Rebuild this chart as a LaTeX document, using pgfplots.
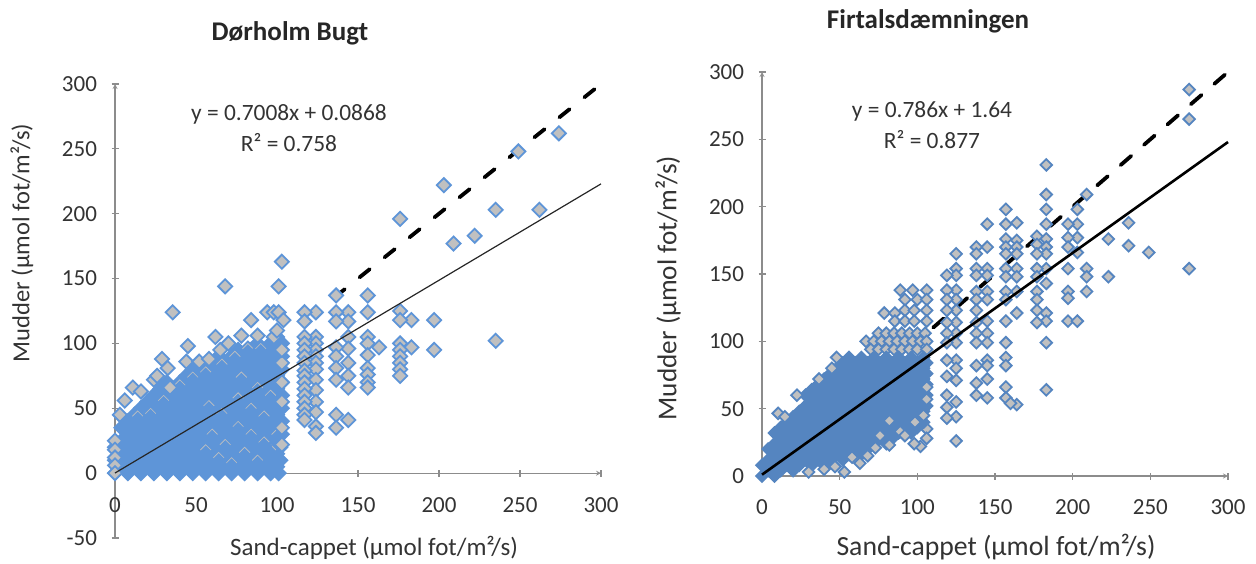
\documentclass[border=0pt]{standalone}
\usepackage{pgfplots}
\pgfplotsset{compat=1.18}
\usepackage{fontspec}
\setmainfont{Carlito}
\definecolor{axc}{HTML}{8C8C8C}
\definecolor{txt}{HTML}{333333}
\definecolor{lblue}{HTML}{5E95D8}
\definecolor{rblue}{HTML}{5585C0}
\definecolor{gfill}{HTML}{C0C0C0}
\pgfplotsset{
 common/.style={
  scale only axis, clip=false, clip mode=individual,
  xmin=0,xmax=300,
  xtick={0,50,100,150,200,250,300},
  axis line style={draw=axc,line width=1.2pt,-},
  tick style={draw=axc,line width=1.2pt},
  tick align=outside, major tick length=7pt,
  hide obscured x ticks=false, hide obscured y ticks=false,
  tick label style={text=txt,font=\fontsize{23}{25}\selectfont},
  /pgf/number format/assume math mode=true,
  yticklabel style={xshift=-11pt},
  label style={text=txt},
 }
}
\begin{document}
\begin{tikzpicture}[x=1pt,y=1pt]
\path[use as bounding box] (0,0) rectangle (1256,563);
\begin{axis}[common,at={(115pt,25pt)},anchor=south west,width=486pt,height=454pt,
  ymin=-50,ymax=300,ytick={-50,0,50,100,150,200,250,300},
  axis x line=middle, axis y line=left,
  xticklabel style={yshift=-17pt},
  lblue core/.style={only marks,mark=square*,mark size=5pt,mark options={rotate=45,draw=lblue,fill=lblue,line width=1.8pt}},
  lgray/.style={only marks,mark=square*,mark size=5pt,mark options={rotate=45,draw=lblue,fill=gfill,line width=1.8pt}},
]
\addplot[black,line width=3.8pt,line cap=round,dash pattern=on 13pt off 19pt] coordinates {(296,296) (130,130)};
\addplot[lblue core] coordinates {
(0,0)(8,0)(16,0)(24,0)(32,0)(40,0)(48,0)(56,0)(64,0)(72,0)(80,0)(88,0)(96,0)(101,0)
(4,5)(12,5)(20,5)(28,5)(36,5)(44,5)(52,5)(60,5)(68,5)(76,5)(84,5)(92,5)(100,5)
(0,10)(8,10)(16,10)(24,10)(32,10)(40,10)(48,10)(56,10)(64,10)(72,10)(80,10)(88,10)(96,10)(102,10)
(4,15)(12,15)(20,15)(28,15)(36,15)(44,15)(52,15)(60,15)(68,15)(76,15)(84,15)(92,15)(100,15)
(0,20)(8,20)(16,20)(24,20)(32,20)(40,20)(48,20)(56,20)(64,20)(72,20)(80,20)(88,20)(96,20)(102,20)
(4,25)(12,25)(20,25)(28,25)(36,25)(44,25)(52,25)(60,25)(68,25)(76,25)(84,25)(92,25)(100,25)
(8,30)(16,30)(24,30)(32,30)(40,30)(48,30)(56,30)(64,30)(72,30)(80,30)(88,30)(96,30)(103,30)
(4,35)(12,35)(20,35)(28,35)(36,35)(44,35)(52,35)(60,35)(68,35)(76,35)(84,35)(92,35)(100,35)
(8,40)(16,40)(24,40)(32,40)(40,40)(48,40)(56,40)(64,40)(72,40)(80,40)(88,40)(96,40)(103,40)
(12,45)(20,45)(28,45)(36,45)(44,45)(52,45)(60,45)(68,45)(76,45)(84,45)(92,45)(100,45)
(16,50)(24,50)(32,50)(40,50)(48,50)(56,50)(64,50)(72,50)(80,50)(88,50)(96,50)(103,50)
(20,55)(28,55)(36,55)(44,55)(52,55)(60,55)(68,55)(76,55)(84,55)(92,55)(100,55)
(24,60)(32,60)(40,60)(48,60)(56,60)(64,60)(72,60)(80,60)(88,60)(96,60)(103,60)
(28,65)(36,65)(44,65)(52,65)(60,65)(68,65)(76,65)(84,65)(92,65)(100,65)
(32,70)(40,70)(48,70)(56,70)(64,70)(72,70)(80,70)(88,70)(96,70)(103,70)
(44,75)(52,75)(60,75)(68,75)(76,75)(84,75)(92,75)(100,75)
(48,80)(56,80)(64,80)(72,80)(80,80)(88,80)(96,80)(103,80)
(60,85)(68,85)(76,85)(84,85)(92,85)(100,85)
(64,90)(72,90)(80,90)(88,90)(96,90)(103,90)
(76,95)(84,95)(92,95)(100,95)
(88,100)(96,100)(103,100)
(100,105)
};
\addplot[lgray] coordinates {
(60,30)(68,22)(76,36)(84,30)(92,24)(64,12)(72,8)(80,16)(88,10)(96,18)(56,18)(100,30)(92,44)(84,50)(76,58)(66,46)(58,52)(96,60)(88,66)(78,74)
(40,68)(48,74)(56,78)(66,84)(74,90)(82,96)(90,96)(30,56)(22,46)(14,44)
};
\addplot[lblue core] coordinates {
(60,27)(68,19)(76,33)(84,27)(92,21)(64,9)(72,5)(80,13)(88,7)(96,15)(56,15)(100,27)(92,41)(84,47)(76,55)(66,43)(58,49)(96,57)(88,63)(78,71)
(40,65)(48,71)(56,75)(66,81)(74,87)(82,93)(90,93)(30,53)(22,43)(14,41)
};
\addplot[lgray] coordinates {
(274,262)(262,203)(249,248)(235,203)(235,102)(222,183)(209,177)(203,222)(197,118)(197,95)
(183,118)(183,97)(176,196)(176,125)(176,118)(176,100)(176,95)(176,90)(176,85)(176,80)(176,75)
(163,97)(156,137)(156,124)(156,105)(156,100)(156,91)(156,81)(156,76)(156,70)(156,66)
(144,124)(144,117)(144,105)(144,96)(144,85)(144,75)(144,66)(144,41)
(136.5,137)(136.5,124)(136.5,117)(136.5,97)(136.5,90)(136.5,81)(136.5,72)(136.5,45)(136.5,35)
(124,124)(124,105)(124,100)(124,95)(124,90)(124,85)(124,80)(124,72)(124,64)(124,55)(124,47)(124,36)(124,31)
(117,124)(117,117)(117,105)(117,100)(117,95)(117,90)(117,85)(117,79)(117,75)(117,70)(117,65)(117,60)(117,55)(117,50)(117,45)(117,41)
(103,163)(101,144)(94,124)(98,124)(101,124)(104,118)(84,118)(68,144)(35.6,124)(62,105)(45,98)(29,88)(32.5,81)
(24,72)(26,75)(11,66)(16,63)(6,56)(3,45)(34,66)(44,86)(52,86)(58,88)(65,95)(70,100)(78,106)(88,106)(98,105)
(0,25)(0,18)(0,12)(0,6)(0,0)
(103,35)(103,22)(103,55)(103,70)(103,85)(103,95)(100,110)
};
\addplot[black!85,line width=1.2pt] coordinates {(0,0.1) (300,223)};
\end{axis}

\begin{axis}[common,at={(762pt,87pt)},anchor=south west,width=466pt,height=404pt,
  ymin=0,ymax=300,ytick={0,50,100,150,200,250,300},
  axis x line=bottom, axis y line=left,
  xticklabel style={yshift=-17pt},
  rblue core/.style={only marks,mark=square*,mark size=4.1pt,mark options={rotate=45,draw=rblue,fill=rblue,line width=1.8pt}},
  rgray/.style={only marks,mark=square*,mark size=4.1pt,mark options={rotate=45,draw=rblue,fill=gfill,line width=1.8pt}},
]
\addplot[black,line width=3.8pt,line cap=round,dash pattern=on 14pt off 17pt] coordinates {(298,298) (100,100)};
\addplot[rgray] coordinates {
(275,287)(275,265)(275,154)
(249,166)(236,188)(236,171)(223,176)(223,148)
(209,209)(209,154)(209,148)(209,137)
(203,198)(203,187)(203,177)(203,166)(197,187)(197,177)(197,170)(197,154)(197,137)(197,132)(197,115)(203,115)
(183,231)(183,209)(183,198)(183,187)(183,176)(183,170)(183,165)(183,154)(183,143)(183,121)(183,115)(183,99)(183,64)
(177,178)(177,172)(177,165)(177,154)(177,148)(177,137)(177,131)(177,123)(177,114)
(164,188)(164,175)(164,170)(164,165)(164,154)(164,148)(164,137)(164,121)(164,53)
(157,198)(157,187)(157,176)(157,170)(157,165)(157,154)(157,148)(157,137)(157,131)(157,115)(157,99)(157,88)(157,82)(157,66)(157,58)(160,54)
(145,187)(145,170)(145,154)(145,149)(145,137)(145,131)(145,115)(145,106)(145,99)(145,86)(145,82)(145,72)(145,58)
(138,170)(138,165)(138,154)(138,149)(138,137)(138,131)(138,123)(138,114)(138,106)(138,99)(138,82)(138,69)(138,60)
(125,165)(125,154)(125,149)(125,138)(125,131)(125,123)(125,114)(125,106)(125,99)(125,86)(125,80)(125,71)(125,55)(125,44)(125,26)
(119,149)(119,138)(119,131)(119,123)(119,114)(119,106)(119,99)(119,86)(119,74)(119,60)(119,51)(119,43)
(89,138)(97,138)(106,138)(92,131)(100,131)(106,131)(106,123)(78.7,121)(85.5,121)(85.5,115)
(92,123)(98,123)(92,115)(98,115)(106,115)
(75,106)(80,106)(85,106)(90,106)(95,106)(100,106)(105,106)
(67,100)(72,100)(77,100)(82,100)(87,100)(92,100)(97,100)(102,100)(106,100)
(70,94)(75,94)(80,94)(85,94)(90,94)(95,94)(100,94)(106,94)
(106,35)(106,28)
};
\addplot[rblue core] coordinates {
(0,0)(8,0)
(4,4)(12,4)(20,4)
(0,8)(8,8)(16,8)(24,8)(32,8)(40,8)
(4,12)(12,12)(20,12)(28,12)(36,12)(44,12)(52,12)
(8,16)(16,16)(24,16)(32,16)(40,16)(48,16)(56,16)(64,16)
(4,20)(12,20)(20,20)(28,20)(36,20)(44,20)(52,20)(60,20)(68,20)
(8,24)(16,24)(24,24)(32,24)(40,24)(48,24)(56,24)(64,24)(72,24)(80,24)
(12,28)(20,28)(28,28)(36,28)(44,28)(52,28)(60,28)(68,28)(76,28)(84,28)
(8,32)(16,32)(24,32)(32,32)(40,32)(48,32)(56,32)(64,32)(72,32)(80,32)(88,32)(96,32)
(12,36)(20,36)(28,36)(36,36)(44,36)(52,36)(60,36)(68,36)(76,36)(84,36)(92,36)(100,36)
(16,40)(24,40)(32,40)(40,40)(48,40)(56,40)(64,40)(72,40)(80,40)(88,40)(96,40)(104,40)
(20,44)(28,44)(36,44)(44,44)(52,44)(60,44)(68,44)(76,44)(84,44)(92,44)(100,44)
(24,48)(32,48)(40,48)(48,48)(56,48)(64,48)(72,48)(80,48)(88,48)(96,48)(104,48)
(28,52)(36,52)(44,52)(52,52)(60,52)(68,52)(76,52)(84,52)(92,52)(100,52)(106,52)
(32,56)(40,56)(48,56)(56,56)(64,56)(72,56)(80,56)(88,56)(96,56)(104,56)
(28,60)(36,60)(44,60)(52,60)(60,60)(68,60)(76,60)(84,60)(92,60)(100,60)(106,60)
(32,64)(40,64)(48,64)(56,64)(64,64)(72,64)(80,64)(88,64)(96,64)(104,64)
(36,68)(44,68)(52,68)(60,68)(68,68)(76,68)(84,68)(92,68)(100,68)(106,68)
(40,72)(48,72)(56,72)(64,72)(72,72)(80,72)(88,72)(96,72)(104,72)
(44,76)(52,76)(60,76)(68,76)(76,76)(84,76)(92,76)(100,76)(106,76)
(48,80)(56,80)(64,80)(72,80)(80,80)(88,80)(96,80)(104,80)
(52,84)(60,84)(68,84)(76,84)(84,84)(92,84)(100,84)(106,84)
(56,88)(64,88)(72,88)(80,88)(88,88)(96,88)(104,88)
};
\addplot[rgray] coordinates {(53,3)(63,9.5)(73,21)(82,23)(102,22)(98,24)(89,33)(98.5,40)(82,41)(40,5)(47,7)(30,3)(58,14)(68,15)(76,30)(92,30)(104,45)(106,57)(106,66)(48,88)(45,80)(36.7,72)(22.5,60)(10.4,46.5)(14.7,44)};
\addplot[black,line width=2.6pt] coordinates {(0,1) (300,248)};
\end{axis}

\node[text=black!85,font=\fontsize{27}{30}\selectfont\bfseries] at (290,530) {Dørholm Bugt};
\node[text=black!85,font=\fontsize{27}{30}\selectfont\bfseries] at (928,542) {Firtalsdæmningen};
\node[text=txt,font=\fontsize{23.4}{27}\selectfont] at (289,449) {y = 0.7008x + 0.0868};
\node[text=txt,font=\fontsize{23.4}{27}\selectfont] at (289,420) {R² = 0.758};
\node[text=txt,font=\fontsize{23.4}{27}\selectfont] at (932,452) {y = 0.786x + 1.64};
\node[text=txt,font=\fontsize{23.4}{27}\selectfont] at (932,423) {R² = 0.877};
\node[text=txt,font=\fontsize{25}{29}\selectfont] at (374,15) {Sand-cappet (µmol fot/m²/s)};
\node[text=txt,font=\fontsize{27.7}{32}\selectfont] at (996,16) {Sand-cappet (µmol fot/m²/s)};
\node[text=txt,rotate=90,font=\fontsize{24.5}{28}\selectfont] at (22,320) {Mudder (µmol fot/m²/s)};
\node[text=txt,rotate=90,font=\fontsize{27.2}{31}\selectfont] at (668,275) {Mudder (µmol fot/m²/s)};
\end{tikzpicture}
\end{document}
